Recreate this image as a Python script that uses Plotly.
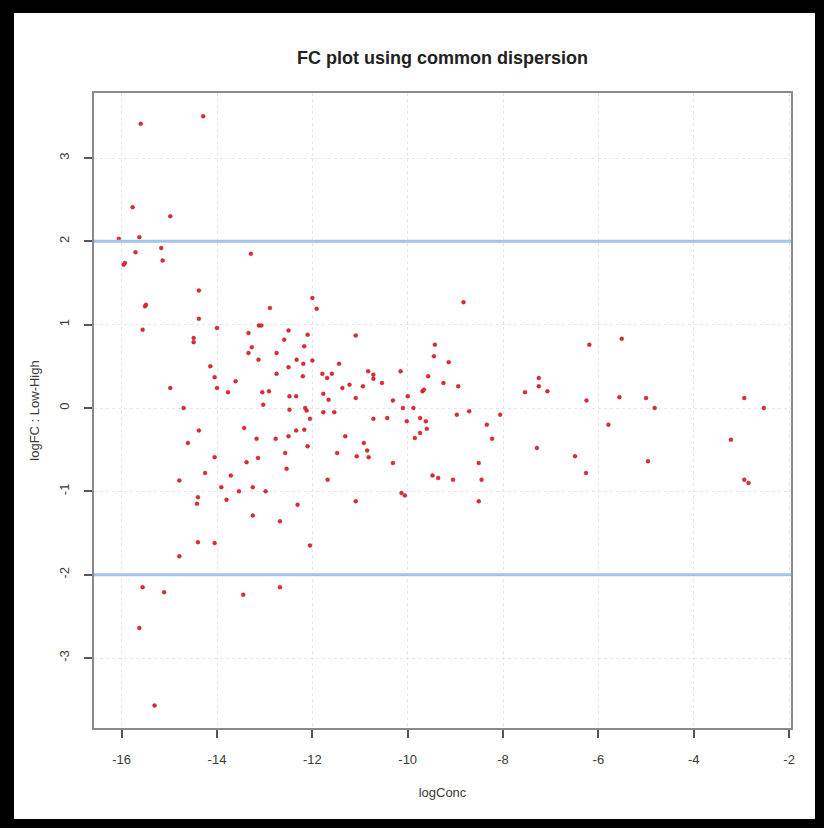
import plotly.graph_objects as go

# ---- data ----
log_conc = [
    -15.60, -14.29, -15.77, -14.98, -16.06, -15.63, -15.71, -15.17, -15.14, -15.96, -15.93,
    -13.29, -14.38, -15.51, -15.49, -15.56, -14.38, -14.49, -14.49, -14.00, -12.00, -11.91,
    -12.89, -13.12, -13.07, -13.34, -12.50, -12.10, -12.59, -13.27, -13.34, -12.75, -12.17,
    -13.13, -12.33, -12.19, -12.00, -11.44, -14.14, -14.05, -14.00, -13.61, -13.77, -14.98,
    -12.75, -12.50, -12.20, -11.79, -11.69, -11.59, -14.70, -13.05, -12.91, -13.03, -12.48,
    -12.34, -12.48, -12.15, -12.12, -11.77, -11.66, -11.77, -11.54,
    -12.05, -12.17, -12.34, -12.50, -12.77, -13.17, -13.43, -14.38, -14.61, -12.10, -11.48,
    -12.57, -13.14, -13.38, -14.05, -12.54, -11.68, -14.25, -13.71, -14.79, -13.91, -13.54,
    -13.25, -12.98, -14.40, -14.42, -13.80, -12.31, -13.25, -12.68, -14.40, -14.05, -12.05,
    -14.79, -15.56, -15.11, -13.45, -12.68, -15.63, -15.31,
    -8.83, -11.09, -9.43, -9.45, -9.14, -10.83, -10.72, -10.72, -10.15, -11.22, -11.37,
    -10.94, -10.54, -9.57, -9.25, -8.94, -9.69, -9.66, -10.00, -10.31, -11.09, -10.10,
    -9.88, -8.97, -8.71, -8.06, -7.54, -7.25, -7.25, -7.07,
    -10.72, -10.43, -10.02, -9.74, -9.62, -9.60, -9.74, -9.85, -8.34, -8.23, -7.29,
    -11.31, -10.92, -11.07, -10.85, -10.82, -10.31, -9.48, -9.36, -9.05, -8.51, -8.45,
    -11.09, -10.13, -10.06, -8.51,
    -6.19, -5.51, -6.25, -5.56, -5.00, -4.82, -2.94, -2.53,
    -6.49, -5.79, -6.26, -4.96, -3.22, -2.94, -2.85,
]
log_fc = [
    3.41, 3.50, 2.41, 2.30, 2.03, 2.05, 1.87, 1.92, 1.77, 1.72, 1.74,
    1.85, 1.41, 1.22, 1.24, 0.94, 1.07, 0.84, 0.79, 0.96, 1.32, 1.19,
    1.20, 0.99, 0.99, 0.90, 0.93, 0.88, 0.82, 0.73, 0.66, 0.66, 0.74,
    0.58, 0.58, 0.53, 0.57, 0.53, 0.50, 0.37, 0.24, 0.32, 0.19, 0.24,
    0.41, 0.49, 0.38, 0.41, 0.36, 0.41, 0.00, 0.19, 0.20, 0.04, 0.14,
    0.14, -0.02, 0.00, -0.03, 0.17, 0.10, -0.05, -0.05,
    -0.13, -0.26, -0.27, -0.34, -0.37, -0.37, -0.24, -0.27, -0.42, -0.46, -0.54,
    -0.54, -0.60, -0.65, -0.59, -0.73, -0.86, -0.78, -0.81, -0.87, -0.95, -1.00,
    -0.95, -1.00, -1.07, -1.15, -1.10, -1.16, -1.29, -1.36, -1.61, -1.62, -1.65,
    -1.78, -2.15, -2.21, -2.24, -2.15, -2.64, -3.57,
    1.27, 0.87, 0.76, 0.62, 0.55, 0.44, 0.40, 0.35, 0.44, 0.28, 0.24,
    0.26, 0.30, 0.38, 0.30, 0.26, 0.20, 0.22, 0.14, 0.09, 0.12, 0.00,
    0.00, -0.08, -0.04, -0.08, 0.19, 0.36, 0.26, 0.20,
    -0.13, -0.12, -0.16, -0.12, -0.16, -0.25, -0.30, -0.36, -0.20, -0.37, -0.48,
    -0.34, -0.42, -0.58, -0.51, -0.59, -0.66, -0.81, -0.84, -0.86, -0.66, -0.86,
    -1.12, -1.02, -1.05, -1.12,
    0.76, 0.83, 0.09, 0.13, 0.12, 0.00, 0.12, 0.00,
    -0.58, -0.20, -0.78, -0.64, -0.38, -0.86, -0.90,
]
x_ticks = [-16, -14, -12, -10, -8, -6, -4, -2]
y_ticks = [-3, -2, -1, 0, 1, 2, 3]
threshold_lines = [-2, 2]

title_text = "FC plot using common dispersion"
x_title = "logConc"
y_title = "logFC : Low-High"

# ---- layout geometry (pixels) ----
W, H = 824, 828
PL, PR, PT, PB = 94, 791, 93, 728   # plot box edges


def px2x(px):
    return (px - PL) / (PR - PL)


def py2y(py):
    return (PB - py) / (PB - PT)


FONT = "Liberation Sans, Arial, sans-serif"
TXT = "#3a3a3a"
AXC = "#8a8a8a"

fig = go.Figure()
fig.add_trace(go.Scatter(
    x=log_conc, y=log_fc, mode="markers",
    marker=dict(color="rgb(230,40,50)", size=4,
                line=dict(width=0.5, color="rgba(150,30,40,0.7)")),
    hoverinfo="x+y", showlegend=False,
))

shapes = []
for v in threshold_lines:
    shapes.append(dict(type="line", xref="paper", yref="y", x0=0, x1=1, y0=v, y1=v,
                       line=dict(color="#9dc6ec", width=3), layer="above"))

# black picture frame
frame = [(0, 0, 14, H), (0, 0, W, 13), (W - 9, 0, W, H), (0, H - 9, W, H)]
for (a, b, c, d) in frame:
    shapes.append(dict(type="rect", xref="paper", yref="paper",
                       x0=px2x(a), x1=px2x(c), y0=py2y(d), y1=py2y(b),
                       fillcolor="black", line=dict(width=0), layer="above"))

fig.update_layout(
    width=W, height=H,
    margin=dict(l=PL, r=W - PR, t=PT, b=H - PB),
    paper_bgcolor="white", plot_bgcolor="white",
    font=dict(family=FONT, size=13, color=TXT),
    shapes=shapes,
    title=dict(text="<b>" + title_text + "</b>", x=px2x((PL + PR) / 2), xref="paper",
               xanchor="center", y=1 - 58 / H, yanchor="middle",
               font=dict(family=FONT, size=18, color="#222222")),
    xaxis=dict(range=[-16.58, -1.96], tickvals=x_ticks,
               ticktext=[str(t) for t in x_ticks],
               showgrid=True, gridcolor="#e6e6e6", griddash="dot", gridwidth=1,
               zeroline=False, showline=True, linecolor=AXC, linewidth=2, mirror=True,
               ticks="outside", ticklen=8, tickwidth=2, tickcolor="#555555",
               ticklabelstandoff=10,
               title=dict(text=x_title, standoff=22, font=dict(size=13, color=TXT))),
    yaxis=dict(range=[-3.84, 3.78], tickvals=y_ticks,
               ticktext=[str(t) for t in y_ticks], tickangle=-90,
               showgrid=True, gridcolor="#e6e6e6", griddash="dot", gridwidth=1,
               zeroline=False, showline=True, linecolor=AXC, linewidth=2, mirror=True,
               ticks="outside", ticklen=8, tickwidth=2, tickcolor="#555555",
               ticklabelstandoff=10,
               title=dict(text=y_title, standoff=14, font=dict(size=13, color=TXT))),
)

fig.write_html("out.html")
